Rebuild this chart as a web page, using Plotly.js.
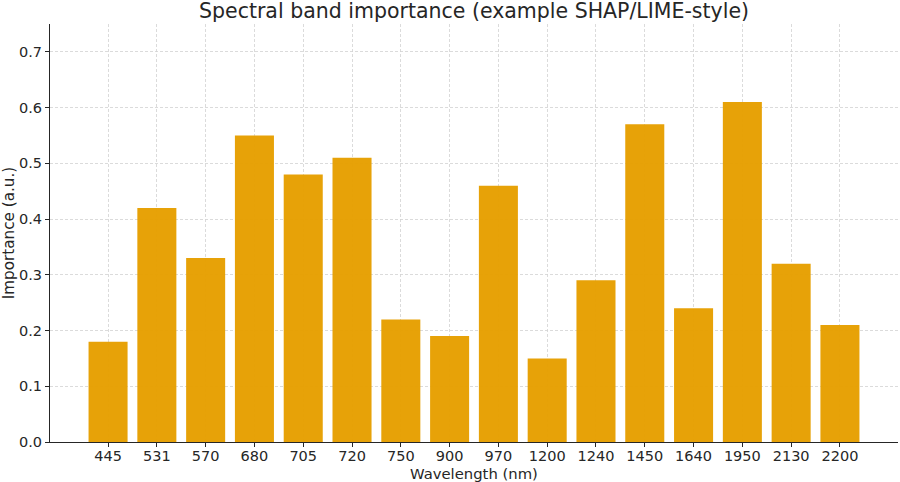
<!DOCTYPE html>
<html>
<head>
<meta charset="utf-8">
<script src="https://cdn.plot.ly/plotly-3.0.1.min.js"></script>
<style>
  html, body { margin: 0; padding: 0; background: #fff; }
  #plot { width: 900px; height: 482px; }
</style>
</head>
<body>
<div id="plot"></div>
<script>
// wavelengths (nm) and importance values
const bands = ['445', '531', '570', '680', '705', '720', '750', '900',
               '970', '1200', '1240', '1450', '1640', '1950', '2130', '2200'];
const importance = [0.18, 0.42, 0.33, 0.55, 0.48, 0.51, 0.22, 0.19,
                    0.46, 0.15, 0.29, 0.57, 0.24, 0.61, 0.32, 0.21];
const yTicks = [0, 0.1, 0.2, 0.3, 0.4, 0.5, 0.6, 0.7];

const font = 'DejaVu Sans, sans-serif';

const trace = {
    x: bands,
    y: importance,
    type: 'bar',
    width: 0.8,
    marker: { color: '#E69F00', opacity: 0.97, line: { width: 0 } },
    hoverinfo: 'x+y'
};

const layout = {
    width: 900,
    height: 482,
    margin: { l: 50, r: 2, t: 24, b: 40 },
    paper_bgcolor: '#fff',
    plot_bgcolor: '#fff',
    showlegend: false,
    font: { family: font, size: 14.5, color: '#262626' },
    title: {
        text: 'Spectral band importance (example SHAP/LIME-style)',
        font: { family: font, size: 20.5, color: '#262626' },
        x: 0.5267, xanchor: 'center',
        y: 0.978, yanchor: 'middle'
    },
    // x title as annotation so it is not squeezed into the tick labels
    annotations: [{
        text: 'Wavelength (nm)',
        xref: 'paper', yref: 'paper',
        x: 0.5, y: -0.075,
        xanchor: 'center', yanchor: 'middle',
        showarrow: false,
        font: { size: 14.8 }
    }],
    xaxis: {
        type: 'category',
        range: [-1.19, 16.19],
        tickfont: { size: 14.5 },
        ticklabelstandoff: -3,
        showline: true, linecolor: '#262626', linewidth: 1,
        ticks: 'outside', ticklen: 4, tickcolor: '#262626',
        showgrid: true, gridcolor: '#d2d2d2', griddash: '3px,2px', gridwidth: 0.8,
        zeroline: false
    },
    yaxis: {
        range: [0, 0.75],
        tickvals: yTicks,
        ticktext: yTicks.map(v => v.toFixed(1)),
        tickfont: { size: 14.5 },
        title: { text: 'Importance (a.u.)', standoff: 5, font: { size: 15.2 } },
        showline: true, linecolor: '#262626', linewidth: 1,
        ticks: 'outside', ticklen: 4, tickcolor: '#262626',
        showgrid: true, gridcolor: '#d2d2d2', griddash: '3px,2px', gridwidth: 0.8,
        zeroline: false
    }
};

Plotly.newPlot('plot', [trace], layout, { displayModeBar: false, staticPlot: true });
</script>
</body>
</html>
